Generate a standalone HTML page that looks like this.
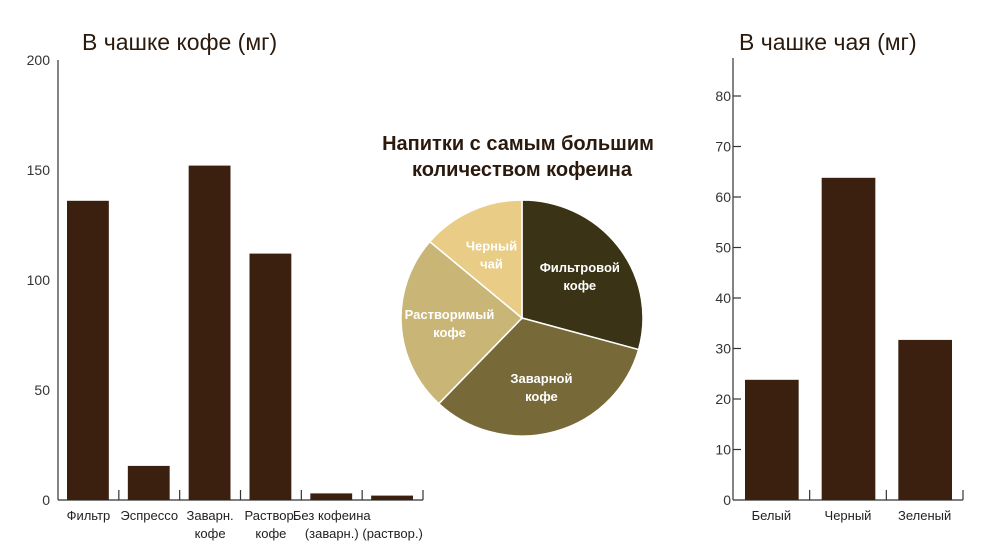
<!DOCTYPE html>
<html><head><meta charset="utf-8"><style>
body{margin:0;background:#fff;width:1000px;height:553px;overflow:hidden}
svg{display:block;font-family:"Liberation Sans",sans-serif}
</style></head><body>
<svg width="1000" height="553" viewBox="0 0 1000 553">
<g id="coffee"></g>
<g id="pie"></g>
<g id="tea"></g>
</svg>
<script>
const coffeeCats=[["Фильтр"],["Эспрессо"],["Заварн.","кофе"],["Раствор.","кофе"],["Без кофеина","(заварн.)"],["","(раствор.)"]];
const coffeeVals=[136,15.5,152,112,3,2];
const coffeeTicks=[0,50,100,150,200];
const teaCats=["Белый","Черный","Зеленый"];
const teaVals=[23.8,63.8,31.7];
const teaTicks=[0,10,20,30,40,50,60,70,80];
const pieLabels=[["Фильтровой","кофе"],["Заварной","кофе"],["Растворимый","кофе"],["Черный","чай"]];
const pieVals=[136,152,112,64];
const pieColors=["#3a3315","#786a38","#c9b677","#e9cd86"];
const pieText=["#fff","#fff","#fff","#fff"];
const NS="http://www.w3.org/2000/svg";
function mk(p,t,a,txt){const e=document.createElementNS(NS,t);for(const k in a)e.setAttribute(k,a[k]);if(txt!==undefined)e.textContent=txt;p.appendChild(e);return e;}
const BAR="#3b1f0f",AX="#333";
// coffee
(function(){
const g=document.getElementById('coffee');
const x0=58,x1=423,yB=500,yT=60,max=200;
const y=v=>yB-(v/max)*(yB-yT);
const step=(x1-x0)/coffeeVals.length;
let t=mk(g,'text',{x:82,y:50,'font-size':23,fill:'#2a1a0e'},'В чашке кофе (мг)');


let l=mk(g,'line',{x1:x0,y1:yT,x2:x0,y2:yB,stroke:AX,'stroke-width':1.2});

l=mk(g,'line',{x1:x0,y1:yB,x2:x1,y2:yB,stroke:AX,'stroke-width':1.2});

coffeeTicks.forEach(v=>{const e=mk(g,'text',{x:x0-8,y:y(v)+5,'font-size':14,'text-anchor':'end',fill:'#333'},v);
});
coffeeVals.forEach((v,i)=>{
const bx=x0+i*step+9,bw=step-19;
const r=mk(g,'rect',{x:bx,y:y(v),width:bw,height:yB-y(v),fill:BAR});

const tk=mk(g,'line',{x1:x0+(i+1)*step,y1:yB,x2:x0+(i+1)*step,y2:yB-10,stroke:AX,'stroke-width':1.2});

coffeeCats[i].forEach((s,j)=>{const e=mk(g,'text',{x:x0+(i+0.5)*step,y:520+j*18,'font-size':13,'text-anchor':'middle',fill:'#222'},s);
});
});
})();
// tea
(function(){
const g=document.getElementById('tea');
const x0=733,x1=963,yB=500,max=80,yM=96;
const y=v=>yB-(v/max)*(yB-yM);
const step=(x1-x0)/teaVals.length;
let t=mk(g,'text',{x:739,y:50,'font-size':23,fill:'#2a1a0e'},'В чашке чая (мг)');

let l=mk(g,'line',{x1:x0,y1:58,x2:x0,y2:yB,stroke:AX,'stroke-width':1.2});

l=mk(g,'line',{x1:x0,y1:yB,x2:x1,y2:yB,stroke:AX,'stroke-width':1.2});

teaTicks.forEach(v=>{const e=mk(g,'text',{x:x0-2,y:y(v)+5,'font-size':14,'text-anchor':'end',fill:'#333'},v);

if(v>0){const k=mk(g,'line',{x1:x0,y1:y(v),x2:x0+8,y2:y(v),stroke:AX,'stroke-width':1.2});
}});
teaVals.forEach((v,i)=>{
const bx=x0+i*step+12,bw=step-23;
const r=mk(g,'rect',{x:bx,y:y(v),width:bw,height:yB-y(v),fill:BAR});

const tk=mk(g,'line',{x1:x0+(i+1)*step,y1:yB,x2:x0+(i+1)*step,y2:yB-10,stroke:AX,'stroke-width':1.2});

const e=mk(g,'text',{x:x0+(i+0.5)*step,y:520,'font-size':13,'text-anchor':'middle',fill:'#222'},teaCats[i]);

});
})();
// pie
(function(){
const g=document.getElementById('pie');
const cx=522,cy=318,rx=121,ry=118;
let t=mk(g,'text',{x:518,y:150,'font-size':20,'font-weight':'bold','text-anchor':'middle',fill:'#2a1a0e'},'Напитки с самым большим');

t=mk(g,'text',{x:522,y:176,'font-size':20,'font-weight':'bold','text-anchor':'middle',fill:'#2a1a0e'},'количеством кофеина');

const tot=pieVals.reduce((a,b)=>a+b,0);
let a=0;
const pt=(ang,f)=>[cx+f*rx*Math.sin(ang),cy-f*ry*Math.cos(ang)];
pieVals.forEach((v,i)=>{
const a2=a+v/tot*2*Math.PI;
const p1=pt(a,1),p2=pt(a2,1);
const large=(a2-a)>Math.PI?1:0;
const p=mk(g,'path',{d:`M${cx},${cy}L${p1[0]},${p1[1]}A${rx},${ry} 0 ${large} 1 ${p2[0]},${p2[1]}Z`,fill:pieColors[i],stroke:'#fff','stroke-width':1.5});

const m=(a+a2)/2,c=pt(m,0.6);
pieLabels[i].forEach((s,j)=>{const e=mk(g,'text',{x:c[0],y:c[1]+j*18-3,'font-size':13,'font-weight':'bold','text-anchor':'middle',fill:pieText[i]},s);
});
a=a2;
});
})();
</script>
</body></html>
